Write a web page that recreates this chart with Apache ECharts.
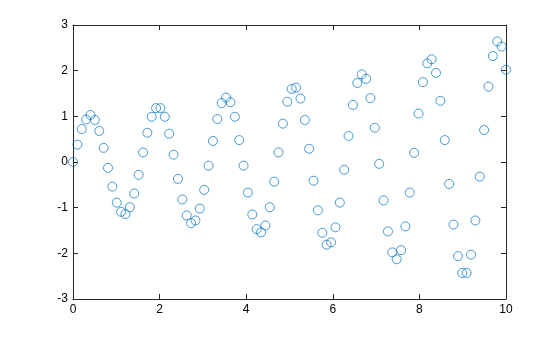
<!DOCTYPE html>
<html><head><meta charset="utf-8">
<script src="https://cdn.jsdelivr.net/npm/echarts@6/dist/echarts.min.js"></script>
<style>html,body{margin:0;padding:0;background:#fff}#c{width:560px;height:337px}</style>
</head><body><div id="c"></div>
<script>
const xValues = [0,0.101,0.202,0.303,0.404,0.505,0.606,0.707,0.808,0.909,
1.010,1.111,1.212,1.313,1.414,1.515,1.616,1.717,1.818,1.919,
2.020,2.121,2.222,2.323,2.424,2.525,2.626,2.727,2.828,2.929,
3.030,3.131,3.232,3.333,3.434,3.535,3.636,3.737,3.838,3.939,
4.040,4.141,4.242,4.343,4.444,4.545,4.646,4.747,4.848,4.949,
5.051,5.152,5.253,5.354,5.455,5.556,5.657,5.758,5.859,5.960,
6.061,6.162,6.263,6.364,6.465,6.566,6.667,6.768,6.869,6.970,
7.071,7.172,7.273,7.374,7.475,7.576,7.677,7.778,7.879,7.980,
8.081,8.182,8.283,8.384,8.485,8.586,8.687,8.788,8.889,8.990,
9.091,9.192,9.293,9.394,9.495,9.596,9.697,9.798,9.899,10];
const yValues = [0,0.38,0.72,0.93,1.03,0.92,0.68,0.31,-0.13,-0.54,
-0.89,-1.09,-1.14,-0.99,-0.69,-0.28,0.21,0.64,0.99,1.18,
1.18,0.99,0.62,0.16,-0.37,-0.82,-1.17,-1.34,-1.28,-1.02,
-0.61,-0.08,0.46,0.94,1.29,1.41,1.31,0.99,0.48,-0.08,
-0.67,-1.15,-1.47,-1.54,-1.39,-0.99,-0.43,0.21,0.84,1.32,
1.60,1.63,1.39,0.92,0.29,-0.41,-1.06,-1.55,-1.81,-1.76,
-1.43,-0.89,-0.17,0.57,1.25,1.73,1.92,1.82,1.40,0.75,
-0.04,-0.84,-1.52,-1.98,-2.13,-1.93,-1.41,-0.67,0.20,1.06,
1.75,2.16,2.25,1.95,1.34,0.48,-0.48,-1.37,-2.06,-2.43,
-2.43,-2.03,-1.28,-0.32,0.70,1.65,2.32,2.64,2.53,2.02];
const xTicks = [0,2,4,6,8,10];
const yTicks = [-3,-2,-1,0,1,2,3];

const points = xValues.map((x,i)=>[x,yValues[i]]);
const font = {fontFamily:'Liberation Sans, Arial, sans-serif', fontSize:12, color:'#000'};
const axisLine = {show:true, onZero:false, lineStyle:{color:'#262626', width:1}};
const tickIn = {show:true, inside:true, length:5, lineStyle:{color:'#262626', width:1}};
function baseAxis(min,max,interval,pos,showLabel){
  return {type:'value', min:min, max:max, interval:interval, position:pos,
    axisLine:axisLine, axisTick:tickIn,
    axisLabel:Object.assign({show:showLabel, margin:5}, font),
    splitLine:{show:false}};
}
const chart = echarts.init(document.getElementById('c'), null, {renderer:'canvas'});
chart.setOption({
  animation:false,
  backgroundColor:'#fff',
  grid:{left:73, right:54, top:25, bottom:38, containLabel:false},
  xAxis:[baseAxis(xTicks[0], xTicks[xTicks.length-1], 2, 'bottom', true),
         baseAxis(xTicks[0], xTicks[xTicks.length-1], 2, 'top', false)],
  yAxis:[baseAxis(yTicks[0], yTicks[yTicks.length-1], 1, 'left', true),
         baseAxis(yTicks[0], yTicks[yTicks.length-1], 1, 'right', false)],
  series:[{type:'scatter', xAxisIndex:0, yAxisIndex:0, data:points,
    symbol:'circle', symbolSize:9,
    itemStyle:{color:'transparent', borderColor:'#0072BD', borderWidth:0.9}}]
});
</script></body></html>
